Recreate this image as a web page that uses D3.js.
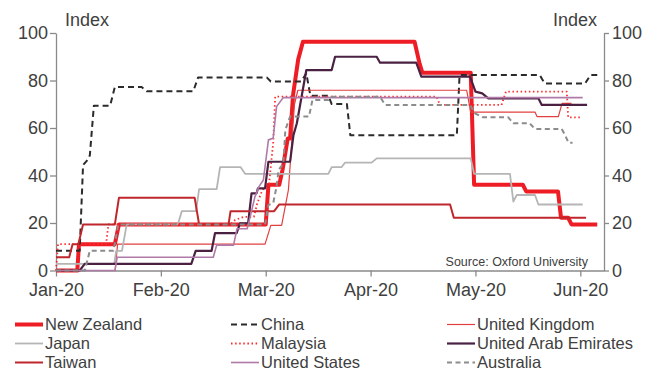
<!DOCTYPE html>
<html>
<head>
<meta charset="utf-8">
<script src="https://cdn.jsdelivr.net/npm/d3@7"></script>
<style>
  html, body { margin: 0; padding: 0; background: #fff; }
  svg { display: block; font-family: "Liberation Sans", Arial, sans-serif; }
</style>
</head>
<body>
<svg id="chart" width="651" height="372"></svg>
<script>
// Stringency index by country, 2020. Each series is a list of [day, index]
// vertices, day 0 = 1 January.
const newZealand = [[0,0],[6.3,0],[6.8,11.1],[17.4,11.1],[18.6,19.4],[62,19.4],[62.8,36.1],[66,36.1],[67,42.6],[68.5,55.6],[69.2,55.6],[70.1,74.1],[71.6,88.9],[73,96.3],[106,96.3],[107.5,87],[108.3,83.3],[122.6,83.3],[123.6,36.1],[138,36.1],[139,33.3],[148.4,33.3],[149.3,22.2],[151.4,22.2],[152.4,19.4],[160,19.4]];
const china = [[0,8.3],[7,8.3],[8,44.4],[9.5,46.8],[10,48.5],[11.2,69.4],[16,69.4],[17.4,77.3],[25.3,77.3],[26.8,75.5],[40.6,75.5],[42,81.3],[62.3,81.3],[63.5,79.6],[72.5,79.6],[74,83],[75.2,73.6],[80.5,73.6],[81.5,70.1],[86,70.1],[87,57],[118.5,57],[119.3,82.3],[143,82.3],[144.5,78.7],[156.4,78.7],[158,82.3],[160,82.3]];
const unitedKingdom = [[0,0],[17.5,0],[18.2,11.1],[61.8,11.1],[63.5,19],[66.7,19],[68.7,33.9],[70.5,70],[71.5,75.9],[121.4,75.9],[122.6,66.7],[141.6,66.7],[142.2,64.8],[148.5,64.8],[149.6,70.4],[152.4,70.4]];
const japan = [[0,2.8],[17.2,2.8],[17.8,8.3],[19.5,8.3],[20.9,19.4],[36,19.4],[37.2,25],[41.4,25],[42.3,34.3],[47.5,34.3],[48.5,43.5],[54.6,43.5],[55.9,40.7],[80.5,40.7],[81.5,43.5],[84.4,43.5],[85.4,45.4],[93.3,45.4],[94.8,47.2],[122.6,47.2],[123.6,40.7],[134.2,40.7],[135.2,29],[136.2,31.8],[141.6,31.8],[142.6,27.8],[155.7,27.8]];
const malaysia = [[0,0],[0.6,11.1],[14.8,11.1],[15.5,19.4],[51.5,19.4],[53,21.3],[55.5,22.6],[58.5,22.6],[59.5,28.3],[61,33.9],[63,36.7],[64.2,53.6],[64.8,73.2],[112.5,73.2],[113.5,69.7],[131.7,69.7],[133,75.3],[151,75.3],[151.4,64.5],[155.4,64.5]];
const uae = [[0,0],[7,0],[8.5,2.8],[40,2.8],[41.3,8.3],[46,8.3],[47,15.7],[53.4,15.7],[54.4,19.9],[56.8,19.9],[57.8,32.5],[59.3,32.5],[59.7,34.6],[61.8,34.6],[62.8,45.8],[69.2,45.8],[70.2,57],[71.2,62],[72.2,70],[74,84.4],[81.5,84.4],[82.5,90],[94.8,90],[95.8,87.5],[106.5,87.5],[108,81.6],[122.4,81.6],[124,75.3],[126,74.6],[127.8,72.5],[142.6,72.5],[143.6,69.7],[157,69.7]];
const taiwan = [[0,5.6],[3.9,5.6],[4.9,11.1],[6.6,11.1],[8,19.4],[17.4,19.4],[18.6,30.6],[41,30.6],[42.3,19.4],[51,19.4],[51.6,25],[64.5,25],[66,27.8],[116.5,27.8],[117.6,22.2],[156.7,22.2]];
const unitedStates = [[0,0],[17.4,0],[18.1,5.6],[46.5,5.6],[47.5,10.7],[52.5,10.7],[53.5,17.6],[56.5,17.6],[57.4,22.6],[58.8,31],[60,35.3],[61.3,38.1],[62.8,55],[64.2,55.7],[65.2,69],[67.2,72.8],[155.7,72.8]];
const australia = [[0,0],[8.5,0],[10,8.3],[17,8.3],[18.4,19.4],[61.8,19.4],[62.8,27.6],[64.2,28.3],[65.2,35.3],[65.8,42.3],[67.2,45.1],[67.8,59.2],[69.2,64.8],[74.8,64.8],[75.8,71.8],[80.5,71.8],[81.5,73.2],[95.8,73.2],[97.3,69.7],[122.4,69.7],[123.8,66.2],[126.3,64.5],[133.7,64.5],[135.2,62],[140,62],[141.6,59.6],[149.5,59.6],[150.5,57],[151.5,53.8],[152.7,53.8]];

const countryNames = ["New Zealand","China","United Kingdom","Japan","Malaysia","United Arab Emirates","Taiwan","United States","Australia"];
const countryValues = [newZealand, china, unitedKingdom, japan, malaysia, uae, taiwan, unitedStates, australia];

const monthTicks = [0, 31, 62, 93, 124, 155];
const monthLabels = ["Jan-20","Feb-20","Mar-20","Apr-20","May-20","Jun-20"];
const indexTicks = [0, 20, 40, 60, 80, 100];

// Line styles, one per country in the same order as the names.
const styles = [
  { color: "#ee1c25", width: 4,   dash: null },
  { color: "#2b2b2b", width: 2,   dash: "6,4" },
  { color: "#e2403f", width: 1.2, dash: null },
  { color: "#b5b5b5", width: 1.8, dash: null },
  { color: "#ff2b2b", width: 1.8, dash: "1.5,2.6" },
  { color: "#4a2142", width: 2.2, dash: null },
  { color: "#c0272d", width: 2,   dash: null },
  { color: "#b07aa8", width: 1.6, dash: null },
  { color: "#8c8c8c", width: 2,   dash: "5,3.5" }
];

const svg = d3.select("#chart");
const plotLeft = 56, plotRight = 604, plotTop = 33, plotBottom = 270.5;

const x = d3.scaleLinear().domain([0, 162]).range([plotLeft, plotRight]);
const y = d3.scaleLinear().domain([0, 100]).range([plotBottom, plotTop]);

const axisColor = "#8a8a8a";
const textColor = "#404040";

function styleAxis(g) {
  g.selectAll("path, line").attr("stroke", axisColor).attr("stroke-width", 1.3);
  g.selectAll("text").attr("fill", textColor).attr("font-size", 18)
    .attr("font-family", '"Liberation Sans", Arial, sans-serif');
}

svg.append("g").attr("transform", `translate(0,${plotBottom})`)
  .call(d3.axisBottom(x).tickValues(monthTicks).tickFormat((d, i) => monthLabels[i])
    .tickSize(6).tickSizeOuter(0).tickPadding(7))
  .call(styleAxis);

svg.append("g").attr("transform", `translate(${plotLeft},0)`)
  .call(d3.axisLeft(y).tickValues(indexTicks).tickSize(6).tickSizeOuter(0).tickPadding(2))
  .call(styleAxis);

svg.append("g").attr("transform", `translate(${plotRight},0)`)
  .call(d3.axisRight(y).tickValues(indexTicks).tickSize(5).tickSizeOuter(0).tickPadding(3))
  .call(styleAxis);

svg.append("text").attr("x", 65).attr("y", 26).attr("font-size", 18).attr("fill", textColor).text("Index");
svg.append("text").attr("x", 597).attr("y", 26).attr("text-anchor", "end").attr("font-size", 18).attr("fill", textColor).text("Index");

const line = d3.line().x(d => x(d[0])).y(d => y(d[1]));

const plot = svg.append("g");
countryValues.forEach((values, i) => {
  const s = styles[i];
  plot.append("path")
    .datum(values)
    .attr("fill", "none")
    .attr("stroke", s.color)
    .attr("stroke-width", s.width)
    .attr("stroke-dasharray", s.dash)
    .attr("stroke-linejoin", "round")
    .attr("d", line);
});

svg.append("text").attr("x", 588).attr("y", 266).attr("text-anchor", "end")
  .attr("font-size", 12.5).attr("fill", textColor).text("Source: Oxford University");

// Legend: three columns, filled row by row
const colX = [15, 231, 447];
const rowY = [324.5, 343.5, 362.5];
const legend = svg.append("g");
countryNames.forEach((name, i) => {
  const s = styles[i];
  const cx = colX[i % 3], cy = rowY[Math.floor(i / 3)];
  legend.append("line")
    .attr("x1", cx).attr("x2", cx + 28).attr("y1", cy).attr("y2", cy)
    .attr("stroke", s.color).attr("stroke-width", s.width)
    .attr("stroke-dasharray", s.dash);
  legend.append("text")
    .attr("x", cx + 30).attr("y", cy).attr("dy", "0.35em")
    .attr("font-size", 16.5).attr("fill", textColor).text(name);
});
</script>
</body>
</html>
